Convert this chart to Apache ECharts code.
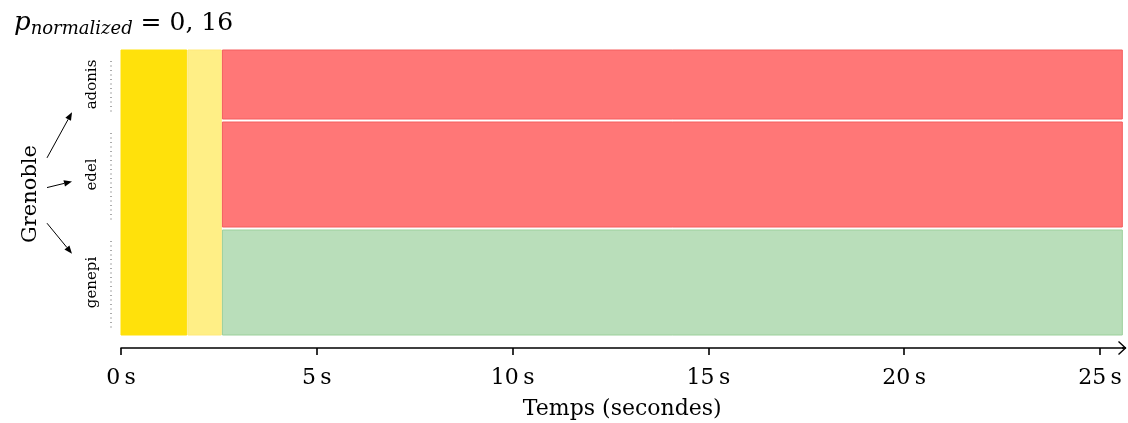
<!DOCTYPE html>
<html>
<head>
<meta charset="utf-8">
<script src="https://cdn.jsdelivr.net/npm/echarts@6/dist/echarts.min.js"></script>
<style>
  html, body { margin: 0; padding: 0; background: #fff; }
  #chart { width: 1128px; height: 423px; }
</style>
</head>
<body>
<div id="chart"></div>
<script>
// --- data ---
const rowNames = ['genepi', 'edel', 'adonis']
const rowLow = [0, 108, 216]
const rowHigh = [105, 213, 285]
const rowState = ['ok', 'fail', 'fail']

// shared phases (all rows), in seconds
const phaseStart = [0, 1.71]
const phaseEnd = [1.68, 2.56]
const phaseKind = ['deploy', 'wait']

// per-row run phase, in seconds
const runStart = [2.59, 2.59, 2.59]
const runEnd = [25.57, 25.57, 25.57]

const xTicks = [0, 5, 10, 15, 20, 25]

const COLORS = {
  deploy: { fill: '#ffe10b', stroke: '#ffe10b' },
  wait: { fill: '#ffef86', stroke: '#ffe97a' },
  fail: { fill: '#ff7777', stroke: '#f45e5e' },
  ok: { fill: '#b9deba', stroke: '#9bd09b' }
}
const SERIF = '"DejaVu Serif", "Liberation Serif", serif'

// --- build bar items ---
const bars = []
phaseKind.forEach((k, i) => {
  bars.push([phaseStart[i], phaseEnd[i], rowLow[0], rowHigh[rowHigh.length - 1], k])
})
rowNames.forEach((n, i) => {
  bars.push([runStart[i], runEnd[i], rowLow[i], rowHigh[i], rowState[i]])
})

const rowItems = rowNames.map((n, i) => [rowLow[i], rowHigh[i], n])

const chart = echarts.init(document.getElementById('chart'))

const option = {
  animation: false,
  backgroundColor: '#fff',
  title: {
    left: 9,
    top: 4,
    text: '{p|p}{sub|normalized}{eq| = 0, 16}',
    textStyle: {
      rich: {
        p: { fontFamily: SERIF, fontStyle: 'italic', fontWeight: 'normal', fontSize: 26, color: '#000' },
        sub: { fontFamily: SERIF, fontStyle: 'italic', fontWeight: 'normal', fontSize: 18, color: '#000', padding: [11, 0, 0, 0] },
        eq: { fontFamily: SERIF, fontWeight: 'normal', fontSize: 25, color: '#000' }
      }
    }
  },
  grid: { left: 121, right: 4.5, top: 50, bottom: 88, outerBoundsMode: 'none' },
  xAxis: {
    type: 'value',
    min: 0,
    max: 25.6,
    interval: 5,
    offset: 13,
    splitLine: { show: false },
    axisLine: {
      onZero: false,
      lineStyle: { color: '#000', width: 1.6 }
    },
    axisTick: { length: 7, lineStyle: { color: '#000', width: 1.6 } },
    axisLabel: {
      showMaxLabel: false,
      margin: 19,
      fontFamily: SERIF,
      fontSize: 22,
      color: '#000',
      formatter: v => (xTicks.includes(v) ? v + '\u2009s' : '')
    },
    name: 'Temps (secondes)',
    nameLocation: 'middle',
    nameGap: 50,
    nameTextStyle: { fontFamily: SERIF, fontSize: 22, color: '#000' }
  },
  yAxis: {
    type: 'value',
    min: 0,
    max: 285,
    show: false
  },
  graphic: [
    {
      type: 'text',
      x: 31, y: 194,
      rotation: Math.PI / 2,
      style: { text: 'Grenoble', font: '21px ' + SERIF, fill: '#000', align: 'center', verticalAlign: 'middle' }
    },
    {
      type: 'polyline',
      shape: { points: [[1122, 348], [1126, 348]] },
      style: { stroke: '#000', lineWidth: 1.6 }
    },
    {
      type: 'polyline',
      shape: { points: [[1118.5, 341.5], [1125.5, 348], [1118.5, 354.5]] },
      style: { stroke: '#000', lineWidth: 1.4, fill: null }
    }
  ],
  series: [
    {
      type: 'custom',
      data: bars,
      renderItem: (params, api) => {
        const p0 = api.coord([api.value(0), api.value(3)])
        const p1 = api.coord([api.value(1), api.value(2)])
        const c = COLORS[bars[params.dataIndex][4]]
        return {
          type: 'rect',
          shape: { x: p0[0], y: p0[1], width: p1[0] - p0[0], height: p1[1] - p0[1] },
          style: { fill: c.fill, stroke: c.stroke, lineWidth: 1 }
        }
      }
    },
    {
      type: 'custom',
      clip: false,
      data: rowItems,
      renderItem: (params, api) => {
        const top = api.coord([0, api.value(1)])
        const bot = api.coord([0, api.value(0)])
        const x = top[0]
        const mid = (top[1] + bot[1]) / 2
        const name = rowItems[params.dataIndex][2]
        const half = name.length * 4.3
        // arrow from Grenoble label to this row label
        const gy = 194
        const sx = 47
        const sy = gy + (mid - gy) * 0.33
        const ex = x - 49
        let ey = mid
        if (mid < gy - 40) ey = mid + half + 2
        else if (mid > gy + 40) ey = mid - half - 3
        else ey = mid + 7
        const ang = Math.atan2(ey - sy, ex - sx)
        const hl = 8, hw = 3.2
        const bx = ex - hl * Math.cos(ang), by = ey - hl * Math.sin(ang)
        const nx = -Math.sin(ang) * hw, ny = Math.cos(ang) * hw
        return {
          type: 'group',
          children: [
            {
              type: 'line',
              shape: { x1: x - 10, y1: top[1] + 11, x2: x - 10, y2: bot[1] - 7 },
              style: { stroke: '#555', lineWidth: 1, lineDash: [1, 3.5] }
            },
            {
              type: 'text',
              x: x - 29,
              y: mid,
              rotation: Math.PI / 2,
              style: { text: name, font: '15px ' + SERIF, fill: '#000', align: 'center', verticalAlign: 'middle' }
            },
            {
              type: 'line',
              shape: { x1: sx, y1: sy, x2: bx, y2: by },
              style: { stroke: '#000', lineWidth: 1 }
            },
            {
              type: 'polygon',
              shape: { points: [[ex, ey], [bx + nx, by + ny], [bx - nx, by - ny]] },
              style: { fill: '#000' }
            }
          ]
        }
      }
    }
  ]
}

chart.setOption(option)
</script>
</body>
</html>
